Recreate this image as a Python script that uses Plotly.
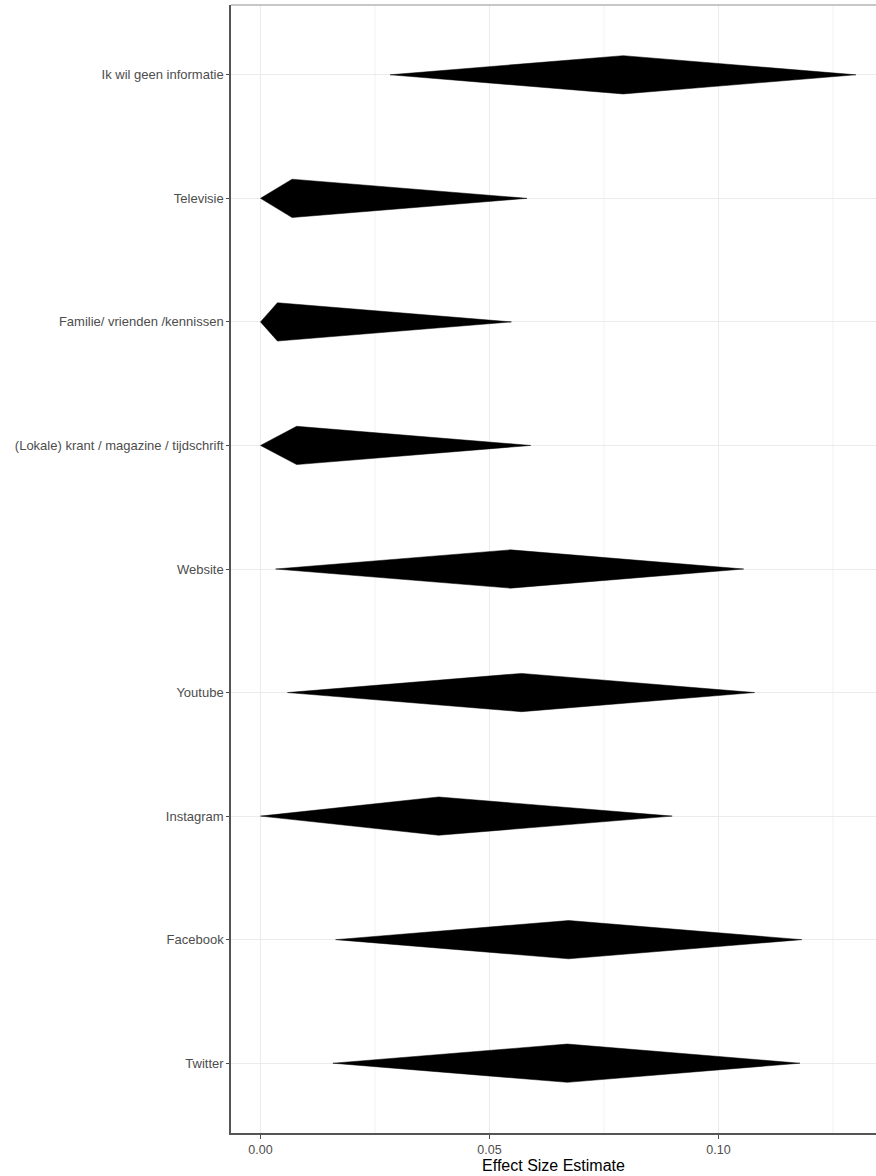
import plotly.graph_objects as go

# Data (top to bottom as displayed)
categories = [
    "Ik wil geen informatie",
    "Televisie",
    "Familie/ vrienden /kennissen",
    "(Lokale) krant / magazine / tijdschrift",
    "Website",
    "Youtube",
    "Instagram",
    "Facebook",
    "Twitter",
]
estimate = [0.0792, 0.0069, 0.0037, 0.0079, 0.0546, 0.0570, 0.0389, 0.0673, 0.0670]
lower = [0.0283, 0.0000, 0.0000, 0.0000, 0.0033, 0.0059, 0.0000, 0.0164, 0.0158]
upper = [0.1300, 0.0582, 0.0548, 0.0590, 0.1055, 0.1079, 0.0899, 0.1182, 0.1178]

x_ticks = [0.0, 0.05, 0.10]
x_tick_labels = ["0.00", "0.05", "0.10"]
x_minor = [0.025, 0.075, 0.125]

n = len(categories)
ypos = [n - i for i in range(n)]  # top category highest
half_h = 0.155

fig = go.Figure()
for c, e, lo, hi, y in zip(categories, estimate, lower, upper, ypos):
    fig.add_trace(go.Scatter(
        x=[lo, e, hi, e, lo],
        y=[y, y + half_h, y, y - half_h, y],
        mode="lines", fill="toself", fillcolor="black",
        line=dict(color="black", width=0.5),
        hoverinfo="text", text=c, showlegend=False,
    ))

x_min, x_max = -0.00644, 0.1344
y_min, y_max = 0.435, n + 0.565

# minor vertical gridlines
for v in x_minor:
    fig.add_shape(type="line", xref="x", yref="paper", x0=v, x1=v, y0=0, y1=1,
                  line=dict(color="#f2f2f2", width=1), layer="below")

fig.update_layout(
    width=876, height=1176,
    margin=dict(l=231, r=0, t=5, b=43),
    paper_bgcolor="white", plot_bgcolor="white",
    font=dict(family="Liberation Sans, Arial, sans-serif", color="#4d4d4d", size=13),
    xaxis=dict(
        range=[x_min, x_max], tickvals=x_ticks, ticktext=x_tick_labels,
        showgrid=True, gridcolor="#ebebeb", gridwidth=1.2, zeroline=False,
        ticks="outside", ticklen=4, tickcolor="#4d4d4d", tickwidth=1,
        showline=True, linecolor="#555555", linewidth=1.5, mirror=False,
        tickfont=dict(size=12.5, color="#4d4d4d"),
        title=dict(text="Effect Size Estimate", font=dict(size=16, color="black"), standoff=0),
    ),
    yaxis=dict(
        range=[y_min, y_max], tickvals=ypos, ticktext=categories,
        showgrid=True, gridcolor="#ebebeb", gridwidth=1.2, zeroline=False,
        ticks="outside", ticklen=3, tickcolor="#4d4d4d", tickwidth=1,
        showline=True, linecolor="#555555", linewidth=1.5,
        tickfont=dict(size=13, color="#4d4d4d"),
    ),
)

# top border (lighter grey)
fig.add_shape(type="line", xref="paper", yref="paper", x0=0, x1=1, y0=1, y1=1,
              line=dict(color="#b5b5b5", width=1.5))

fig.write_html("out.html", config={"displayModeBar": False},
               post_script="document.body.style.margin='0px';document.body.style.overflow='hidden';")
